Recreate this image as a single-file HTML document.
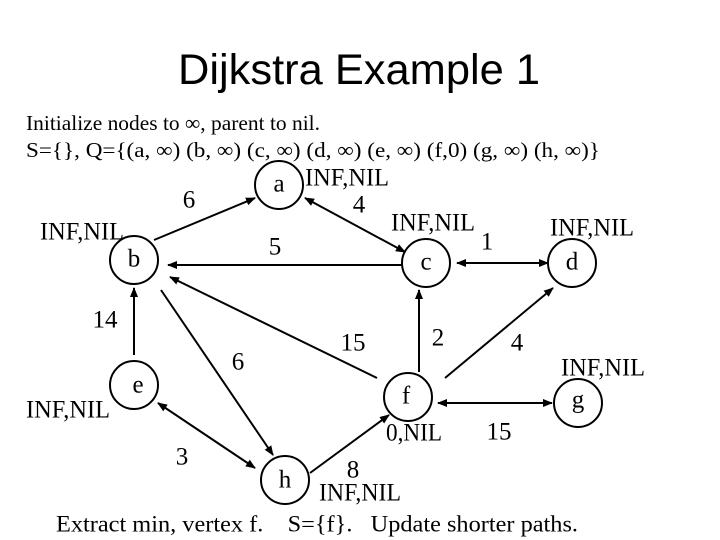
<!DOCTYPE html>
<html><head><meta charset="utf-8"><style>
html,body{margin:0;padding:0;background:#fff;}
svg{display:block;}
text{font-family:"Liberation Serif",serif;fill:#000;}
</style></head><body>
<svg width="720" height="540" viewBox="0 0 720 540" xmlns="http://www.w3.org/2000/svg">
<defs>
<marker id="ar" markerWidth="10" markerHeight="8" refX="9" refY="4" orient="auto-start-reverse" markerUnits="userSpaceOnUse">
<path d="M0,0 L10,4 L0,8 Z" fill="#000"/></marker>
</defs>
<text x="178" y="70" textLength="362" lengthAdjust="spacingAndGlyphs" dominant-baseline="central" style="font-family:'Liberation Sans',sans-serif;font-size:43px">Dijkstra Example 1</text>
<text x="26" y="123" textLength="294" lengthAdjust="spacingAndGlyphs" dominant-baseline="central" style="font-size:21px">Initialize nodes to ∞, parent to nil.</text>
<text x="26" y="150" textLength="574" lengthAdjust="spacingAndGlyphs" dominant-baseline="central" style="font-size:21px">S={}, Q={(a, ∞) (b, ∞) (c, ∞) (d, ∞) (e, ∞) (f,0) (g, ∞) (h, ∞)}</text>
<g stroke="#000" stroke-width="2" fill="none">
<ellipse cx="279" cy="185" rx="24" ry="24"/>
<ellipse cx="134" cy="260" rx="24" ry="24"/>
<ellipse cx="426" cy="263" rx="24" ry="24"/>
<ellipse cx="572" cy="263" rx="24" ry="24"/>
<ellipse cx="134" cy="385" rx="24" ry="24"/>
<ellipse cx="408" cy="397" rx="24" ry="24"/>
<ellipse cx="578" cy="403" rx="24" ry="24"/>
<ellipse cx="285" cy="480" rx="24" ry="24"/>
<line x1="154" y1="240" x2="255" y2="198" marker-end="url(#ar)"/>
<line x1="305" y1="198" x2="405" y2="252" marker-start="url(#ar)" marker-end="url(#ar)"/>
<line x1="402" y1="265" x2="168" y2="265" marker-end="url(#ar)"/>
<line x1="457" y1="263" x2="548" y2="263" marker-start="url(#ar)" marker-end="url(#ar)"/>
<line x1="134" y1="355" x2="134" y2="288" marker-end="url(#ar)"/>
<line x1="161" y1="290" x2="273" y2="455" marker-end="url(#ar)"/>
<line x1="377" y1="378" x2="170" y2="277" marker-end="url(#ar)"/>
<line x1="419" y1="372" x2="419" y2="290" marker-end="url(#ar)"/>
<line x1="445" y1="378" x2="553" y2="288" marker-end="url(#ar)"/>
<line x1="438" y1="403" x2="552" y2="403" marker-start="url(#ar)" marker-end="url(#ar)"/>
<line x1="158" y1="403" x2="255" y2="468" marker-start="url(#ar)" marker-end="url(#ar)"/>
<line x1="310" y1="473" x2="389" y2="415" marker-end="url(#ar)"/>
</g>
<g style="font-size:25px" dominant-baseline="central" text-anchor="middle">
<text x="279" y="184">a</text>
<text x="134" y="259">b</text>
<text x="426" y="262">c</text>
<text x="572" y="262">d</text>
<text x="138" y="385">e</text>
<text x="406" y="396">f</text>
<text x="578" y="400">g</text>
<text x="285" y="480">h</text>
<text x="189" y="200">6</text>
<text x="359" y="205">4</text>
<text x="487" y="242">1</text>
<text x="275" y="247">5</text>
<text x="105" y="320">14</text>
<text x="353" y="343">15</text>
<text x="438" y="338">2</text>
<text x="517" y="343">4</text>
<text x="238" y="362">6</text>
<text x="499" y="432">15</text>
<text x="182" y="457">3</text>
<text x="353" y="470">8</text>
</g>
<g style="font-size:25px" dominant-baseline="central">
<text x="305" y="178" textLength="84" lengthAdjust="spacingAndGlyphs">INF,NIL</text>
<text x="391" y="223" textLength="84" lengthAdjust="spacingAndGlyphs">INF,NIL</text>
<text x="550" y="228" textLength="84" lengthAdjust="spacingAndGlyphs">INF,NIL</text>
<text x="40" y="232" textLength="84" lengthAdjust="spacingAndGlyphs">INF,NIL</text>
<text x="561" y="368" textLength="84" lengthAdjust="spacingAndGlyphs">INF,NIL</text>
<text x="26" y="410" textLength="84" lengthAdjust="spacingAndGlyphs">INF,NIL</text>
<text x="386" y="433" textLength="56" lengthAdjust="spacingAndGlyphs">0,NIL</text>
<text x="319" y="493" textLength="82" lengthAdjust="spacingAndGlyphs">INF,NIL</text>
</g>
<text x="56" y="524" textLength="522" lengthAdjust="spacingAndGlyphs" dominant-baseline="central" style="font-size:23px;white-space:pre" xml:space="preserve">Extract min, vertex f.    S={f}.   Update shorter paths.</text>
</svg>
</body></html>
